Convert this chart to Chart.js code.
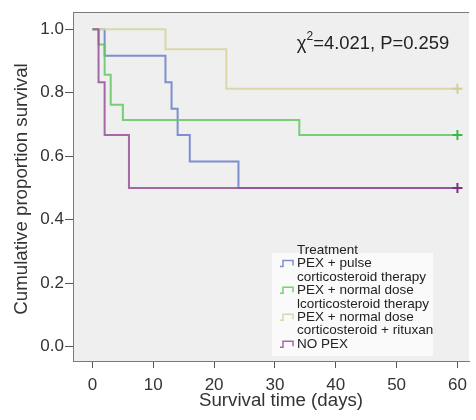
<!DOCTYPE html>
<html>
<head>
<meta charset="utf-8">
<script src="https://cdn.jsdelivr.net/npm/chart.js@4.4.1/dist/chart.umd.min.js"></script>
<style>
html,body{margin:0;padding:0;background:#ffffff;}
#wrap{position:relative;width:476px;height:420px;}
</style>
</head>
<body>
<div id="wrap"><canvas id="c" width="476" height="420"></canvas></div>
<script>
// ---- data ----
const groupLabels = [
  ["PEX + pulse", "corticosteroid therapy"],
  ["PEX + normal dose", "lcorticosteroid therapy"],
  ["PEX + normal dose", "corticosteroid + rituxan"],
  ["NO PEX"]
];
const legendTitle = "Treatment";
const pulseTimes = [0, 2, 12, 13, 14, 16, 24, 60];
const pulseSurv  = [1, 0.9167, 0.8333, 0.75, 0.6667, 0.5833, 0.5, 0.5];
const normalTimes = [0, 1, 2, 3, 5, 34, 60];
const normalSurv  = [1, 0.952, 0.857, 0.762, 0.714, 0.667, 0.667];
const rituxanTimes = [0, 12, 22, 60];
const rituxanSurv  = [1, 0.9375, 0.8125, 0.8125];
const noPexTimes = [0, 1, 2, 6, 60];
const noPexSurv  = [1, 0.833, 0.667, 0.5, 0.5];
const censorTime = 60;
const xTicks = [0, 10, 20, 30, 40, 50, 60];
const yTicks = [0, 0.2, 0.4, 0.6, 0.8, 1.0];
const xTitle = "Survival time (days)";
const yTitle = "Cumulative proportion survival";
const statText = {chi: "4.021", p: "0.259"};

const lineColors = ["rgba(104,126,200,0.85)", "rgba(98,200,98,0.85)", "rgba(216,214,166,0.95)", "rgba(150,80,150,0.85)"];
const censorColors = ["#5670c0", "#3cb64a", "#d0cf98", "#7e2f7e"];

const pts = (t, s) => t.map((x, i) => ({x: x, y: s[i]}));
const series = [
  pts(pulseTimes, pulseSurv),
  pts(normalTimes, normalSurv),
  pts(rituxanTimes, rituxanSurv),
  pts(noPexTimes, noPexSurv)
];
const orders = [4, 3, 2, 1];

const datasets = [];
series.forEach((d, i) => {
  datasets.push({
    type: 'line', label: groupLabels[i].join(' '), data: d,
    stepped: 'before', borderColor: lineColors[i], borderWidth: 2,
    pointRadius: 0, fill: false, order: orders[i]
  });
});
[1, 2, 3].forEach(i => {
  const last = series[i][series[i].length - 1];
  datasets.push({
    type: 'scatter', label: 'censor' + i, data: [{x: censorTime, y: last.y}],
    pointStyle: 'cross', pointRadius: 5, pointBorderWidth: 2,
    borderColor: censorColors[i], backgroundColor: censorColors[i], order: 0
  });
});

const FONT = "'Liberation Sans', Arial, Helvetica, sans-serif";

const decor = {
  id: 'decor',
  beforeDraw(chart) {
    const a = chart.chartArea, ctx = chart.ctx;
    ctx.save();
    ctx.fillStyle = '#efefef';
    ctx.fillRect(a.left, a.top, a.right - a.left, a.bottom - a.top);
    ctx.restore();
  },
  afterDraw(chart) {
    const a = chart.chartArea, ctx = chart.ctx;
    ctx.save();
    ctx.strokeStyle = '#7a7a7a'; ctx.lineWidth = 1;
    ctx.beginPath(); ctx.moveTo(a.left, a.top + 0.5); ctx.lineTo(a.right, a.top + 0.5); ctx.stroke();
    // axis titles
    ctx.font = "18.7px " + FONT;
    ctx.fillStyle = '#333';
    ctx.textAlign = 'center'; ctx.textBaseline = 'middle';
    ctx.fillText(xTitle, 281, 401);
    ctx.save();
    ctx.translate(22, 189);
    ctx.rotate(-Math.PI / 2);
    ctx.fillText(yTitle, 0, 0);
    ctx.restore();
    // stat text
    const cx = 373, cy = 44;
    ctx.fillStyle = '#222';
    ctx.textBaseline = 'middle';
    ctx.font = "18.4px " + FONT;
    const rest = "=" + statText.chi + ", P=" + statText.p;
    const wChi = ctx.measureText("χ").width;
    ctx.font = "12px " + FONT;
    const w2 = ctx.measureText("2").width;
    ctx.font = "18.4px " + FONT;
    const wRest = ctx.measureText(rest).width;
    let x0 = cx - (wChi + w2 + wRest) / 2;
    ctx.textAlign = 'left';
    ctx.fillText("χ", x0, cy);
    ctx.font = "12px " + FONT;
    ctx.fillText("2", x0 + wChi, cy - 7);
    ctx.font = "18.4px " + FONT;
    ctx.fillText(rest, x0 + wChi + w2, cy);
    // legend
    const bx = 272, by = 253, bw = 161, bh = 103;
    ctx.fillStyle = '#fafafa';
    ctx.fillRect(bx, by, bw, bh);
    ctx.fillStyle = '#222';
    ctx.font = "13.5px " + FONT;
    ctx.textBaseline = 'middle';
    const tx = 297, lh = 13.45;
    let y = 250;
    ctx.fillText(legendTitle, tx, y);
    groupLabels.forEach((lines, i) => {
      y += lh;
      const ix = 280, iy = y - 3;
      ctx.strokeStyle = lineColors[i]; ctx.lineWidth = 1.5;
      ctx.beginPath();
      ctx.moveTo(ix, iy + 6); ctx.lineTo(ix + 3, iy + 6); ctx.lineTo(ix + 3, iy);
      ctx.lineTo(ix + 13, iy); ctx.lineTo(ix + 13, iy + 5);
      ctx.stroke();
      lines.forEach((ln, j) => {
        if (j > 0) y += lh;
        ctx.fillText(ln, tx, y);
      });
    });
    ctx.restore();
  }
};

new Chart(document.getElementById('c'), {
  data: {datasets: datasets},
  options: {
    responsive: false, animation: false,
    layout: {padding: {top: 12, right: 0, bottom: 0, left: 0}},
    plugins: {legend: {display: false}, tooltip: {enabled: false}},
    scales: {
      x: {
        type: 'linear', min: -3.2, max: 61.9,
        afterBuildTicks: s => { s.ticks = xTicks.map(v => ({value: v})); },
        afterFit: s => { s.height = 59; },
        grid: {display: true, drawOnChartArea: false, drawTicks: true, tickLength: 7, color: '#555'},
        border: {display: true, color: '#7a7a7a'},
        ticks: {font: {size: 17, family: FONT}, color: '#333', padding: 7, maxRotation: 0},
        title: {display: false}
      },
      y: {
        type: 'linear', min: -0.045, max: 1.0545,
        afterBuildTicks: s => { s.ticks = yTicks.map(v => ({value: v})); },
        afterFit: s => { s.width = 73; },
        grid: {display: true, drawOnChartArea: false, drawTicks: true, tickLength: 8, color: '#555'},
        border: {display: true, color: '#7a7a7a'},
        ticks: {font: {size: 17, family: FONT}, color: '#333', padding: 1, callback: v => Number(v).toFixed(1)},
        title: {display: false}
      }
    }
  },
  plugins: [decor]
});
</script>
</body>
</html>
